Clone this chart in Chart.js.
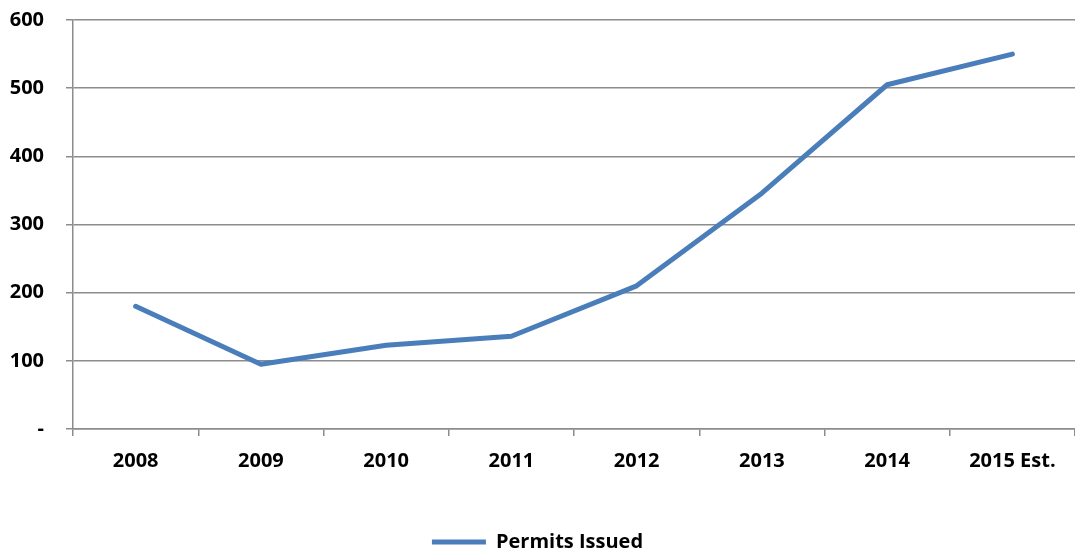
<!DOCTYPE html>
<html>
<head>
<meta charset="utf-8">
<script src="https://cdn.jsdelivr.net/npm/chart.js@4.4.0/dist/chart.umd.min.js"></script>
<style>
  html, body { margin: 0; padding: 0; background: #fff; overflow: hidden; }
  canvas { display: block; }
</style>
</head>
<body>
<canvas id="permitsChart" width="1075" height="552"></canvas>
<script>
const years = ['2008', '2009', '2010', '2011', '2012', '2013', '2014', '2015 Est.'];
const permitsIssued = [180, 95, 123, 136, 210, 346, 505, 550];
const yTicks = [0, 100, 200, 300, 400, 500, 600];

const gridColor = '#8c8c8c';
const lineColor = '#4a7ebb';
const labelFont = { family: 'Open Sans', size: 20, weight: 'bold' };

const ctx = document.getElementById('permitsChart').getContext('2d');
new Chart(ctx, {
    type: 'line',
    data: {
        labels: years,
        datasets: [{
            label: 'Permits Issued',
            data: permitsIssued,
            borderColor: lineColor,
            backgroundColor: lineColor,
            borderWidth: 5,
            pointRadius: 0,
            tension: 0,
            borderCapStyle: 'round',
            borderJoinStyle: 'round'
        }]
    },
    options: {
        responsive: false,
        animation: false,
        devicePixelRatio: 1,
        layout: { padding: { top: 20, right: 0, bottom: -10, left: 0 } },
        plugins: {
            tooltip: { enabled: false },
            legend: {
                position: 'bottom',
                labels: {
                    color: '#000',
                    font: labelFont,
                    boxWidth: 54,
                    boxHeight: 5,
                    padding: 0,
                    generateLabels: (chart) => chart.data.datasets.map((ds, i) => ({
                        text: ds.label,
                        fillStyle: ds.borderColor,
                        strokeStyle: ds.borderColor,
                        lineWidth: 0,
                        datasetIndex: i
                    }))
                }
            }
        },
        scales: {
            x: {
                offset: true,
                grid: { display: true, drawOnChartArea: false, drawTicks: true, tickLength: 7, color: gridColor, lineWidth: 1.5, offset: true },
                border: { color: gridColor, width: 1.5 },
                ticks: { color: '#000', font: labelFont, padding: 13, maxRotation: 0 },
                afterFit: (scale) => { scale.height = 103; }
            },
            y: {
                min: 0,
                max: 600,
                afterBuildTicks: (scale) => { scale.ticks = yTicks.map(v => ({ value: v })); },
                grid: { color: gridColor, lineWidth: 1.5, drawTicks: true, tickLength: 7 },
                border: { color: gridColor, width: 1.5 },
                ticks: {
                    color: '#000',
                    font: labelFont,
                    padding: 22,
                    callback: (v) => v === 0 ? '-' : v
                },
                afterFit: (scale) => {
                    scale.width = 73;
                    // tick padding is horizontal here, keep it out of the top/bottom room
                    scale.paddingTop = 10;
                    scale.paddingBottom = 10;
                }
            }
        }
    }
});
</script>
</body>
</html>
